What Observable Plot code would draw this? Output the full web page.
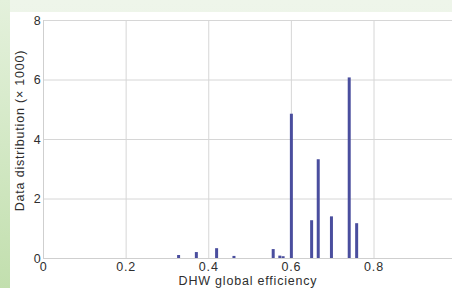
<!DOCTYPE html>
<html>
<head>
<meta charset="utf-8">
<script src="https://cdn.jsdelivr.net/npm/d3@7"></script>
<script src="https://cdn.jsdelivr.net/npm/@observablehq/plot@0.6"></script>
<style>
  html, body { margin: 0; padding: 0; }
  body { width: 452px; height: 288px; overflow: hidden; position: relative;
         background: linear-gradient(to bottom, #eef5ea, #e6f1df); }
  #strip { position: absolute; left: 0; top: 0; width: 10px; height: 288px;
           background: linear-gradient(to bottom, #e4f1dc, #c2dfae); }
  #panel { position: absolute; left: 10px; top: 12px; width: 442px; height: 276px; background: #fff; }
  #panel svg { display: block; overflow: visible; }
  #panel svg text { letter-spacing: 0.8px; }
</style>
</head>
<body>
<div id="strip"></div>
<div id="panel"></div>
<script>
// Data
const efficiency = [0.327, 0.370, 0.419, 0.461, 0.556, 0.572, 0.580, 0.600, 0.649, 0.665, 0.697, 0.740, 0.758];
const counts     = [0.10,  0.20,  0.33,  0.07,  0.30,  0.08,  0.06,  4.85,  1.27,  3.32,  1.40,  6.07,  1.17];
const xTicks = [0, 0.2, 0.4, 0.6, 0.8];
const yTicks = [0, 2, 4, 6, 8];
const xLabel = "DHW global efficiency";
const yLabel = "Data distribution (\u00d7 1000)";

const data = efficiency.map((e, i) => ({x: e, y: counts[i]}));

const chart = Plot.plot({
  width: 442,
  height: 276,
  marginLeft: 33,
  marginRight: 0,
  marginTop: 8,
  marginBottom: 30,
  style: {fontFamily: "Liberation Sans, Arial, sans-serif", fontSize: "12.5px", color: "#333", background: "#fff"},
  x: {domain: [0, 0.99]},
  y: {domain: [0, 8]},
  marks: [
    Plot.gridX(xTicks, {stroke: "#d6d6d6", strokeOpacity: 1}),
    Plot.gridY(yTicks, {stroke: "#d6d6d6", strokeOpacity: 1}),
    Plot.ruleX([0], {stroke: "#cfcfcf"}),
    Plot.ruleY([0], {stroke: "#cfcfcf"}),
    Plot.ruleX(data, {x: "x", y1: 0, y2: "y", stroke: "#4a4e9e", strokeWidth: 3}),
    Plot.axisX(xTicks, {tickSize: 0, tickPadding: 4, tickFormat: d => d === 0 ? "0" : d.toFixed(1), label: null, fill: "#2e2e2e"}),
    Plot.axisY(yTicks, {tickSize: 0, tickPadding: 2, label: null, fill: "#2e2e2e"}),
    Plot.text([xLabel], {frameAnchor: "bottom", dy: 26, fill: "#2e2e2e", fontSize: 12.5, text: d => d}),
    Plot.text([yLabel], {frameAnchor: "left", rotate: -90, textAnchor: "middle", dx: -24, dy: -9, fill: "#2e2e2e", fontSize: 12.5, text: d => d})
  ]
});
document.getElementById("panel").appendChild(chart);
</script>
</body>
</html>
